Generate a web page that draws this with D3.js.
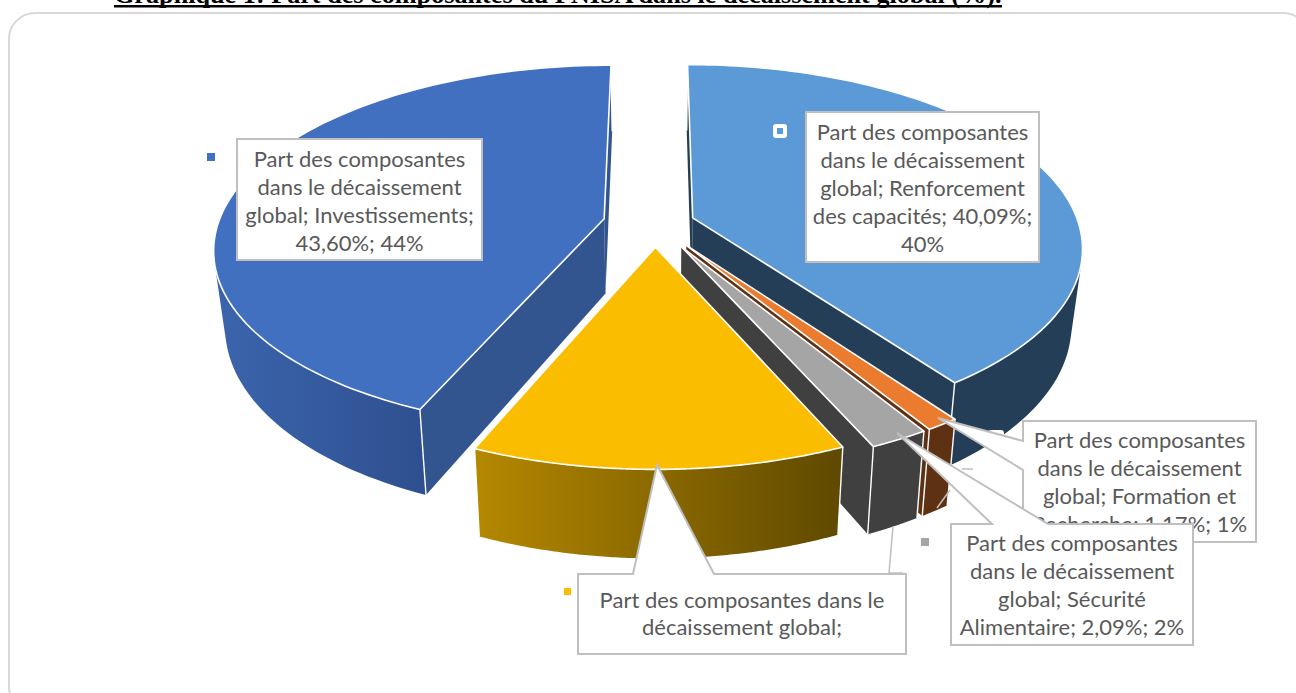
<!DOCTYPE html>
<html lang="fr"><head><meta charset="utf-8">
<style>html,body{margin:0;padding:0;background:#fff;overflow:hidden}svg{display:block}</style>
<script src="https://cdn.jsdelivr.net/npm/d3@7/dist/d3.min.js"></script>
</head><body><svg id="c" width="1296" height="693"></svg>
<script>
// ---- data ----
const categories = ["Renforcement des capacités","Formation et Recherche","Sécurité Alimentaire","Autres composantes","Investissements"];
const values = [40.09,1.17,2.09,13.05,43.60];
const topColors = ["#5b9ad6","#ea7b2f","#a5a5a5","#fbbd00","#4270c0"];
const wallColors = ["#233e56","#5f3113","#404040","#8a6900","#325590"];
const wallStart = ["#233e56","#5f3113","#404040","#b58800","#3b65ad"];
const wallEnd = ["#233e56","#5f3113","#404040","#5f4900","#2f5090"];
const explosions = [0.103,0.145,0.145,0.13,0.135];
const labelLines = [
  ["Part des composantes","dans le décaissement","global; Renforcement","des capacités; 40,09%;","40%"],
  ["Part des composantes","dans le décaissement","global; Formation et","Recherche; 1,17%; 1%"],
  ["Part des composantes","dans le décaissement","global; Sécurité","Alimentaire; 2,09%; 2%"],
  ["Part des composantes dans le","décaissement global;"],
  ["Part des composantes","dans le décaissement","global; Investissements;","43,60%; 44%"]
];
const titleText = "Graphique 1: Part des composantes du PNISA dans le décaissement global (%).";

// ---- layout ----
const vx=655,y0=223.5,a=386,b=179,k=0.157,depth=65,lift=10,shrink=0.974;
const svg=d3.select("#c");
const defs=svg.append("defs");

function project(X,Y,bottom){const s=1/(1-k*Y);
  return bottom?[vx+a*X*s*shrink,y0+lift+(b*Y+depth)*s]:[vx+a*X*s,y0+b*Y*s];}

const arcs=d3.pie().sort(null).startAngle(0).endAngle(2*Math.PI)(values);
const line=d3.line();

// frame
svg.append("rect").attr("x",9).attr("y",13).attr("width",1300).attr("height",700).attr("rx",26)
  .attr("fill","#fff").attr("stroke","#d9d9d9").attr("stroke-width",2);

// title
svg.append("text").attr("x",114).attr("y",3).attr("font-family","Liberation Serif")
  .attr("font-weight","700").attr("font-size",26.2).attr("fill","#000").text(titleText);
svg.append("rect").attr("x",114).attr("y",5).attr("width",888).attr("height",2.5).attr("fill","#000");

// pie slices
arcs.forEach((d,i)=>{
  const mid=(d.startAngle+d.endAngle)/2,e=explosions[i];
  const ex=e*Math.sin(mid),ey=-e*Math.cos(mid);
  const pt=(t,bottom)=>project(Math.sin(t)+ex,-Math.cos(t)+ey,bottom);
  const apex=bottom=>project(ex,ey,bottom);
  const ts=d3.range(0,121).map(j=>d.startAngle+(d.endAngle-d.startAngle)*j/120);
  const g=svg.append("g");
  const xs=ts.map(t=>pt(t,false)).filter(p=>p[1]>y0).map(p=>p[0]);
  const id="w"+i,gr=defs.append("linearGradient").attr("id",id).attr("gradientUnits","userSpaceOnUse")
    .attr("x1",d3.min(xs)).attr("x2",d3.max(xs)).attr("y1",0).attr("y2",0);
  gr.append("stop").attr("offset",0).attr("stop-color",wallStart[i]);
  gr.append("stop").attr("offset",1).attr("stop-color",wallEnd[i]);
  // outer wall: front-facing quads merged into one path, so the silhouettes are filled without seams
  const quad=(t1,t2)=>[pt(t1,false),pt(t2,false),pt(t2,true),pt(t1,true)];
  const frontSign=Math.sign(d3.polygonArea(quad(Math.PI-0.01,Math.PI+0.01)));
  const wall=d3.pairs(ts).map(([t1,t2])=>quad(t1,t2))
    .filter(q=>Math.sign(d3.polygonArea(q))===frontSign)
    .map(q=>line(q)+"Z").join("");
  g.append("path").attr("d",wall).attr("fill",`url(#${id})`);
  [d.startAngle,d.endAngle].forEach(t=>{
    if(i!==3) g.append("path").attr("d",line([apex(false),pt(t,false),pt(t,true),apex(true)])+"Z")
      .attr("fill",wallColors[i]);
    g.append("path").attr("d",line([pt(t,false),pt(t,true)])).attr("stroke","#fff").attr("stroke-width",1.4).attr("fill","none");
  });
  g.append("path").attr("d",line([apex(false),...ts.map(t=>pt(t,false))])+"Z")
    .attr("fill",topColors[i]).attr("stroke","#fff").attr("stroke-width",1.6).attr("stroke-linejoin","round");
});

// leader stubs
const stroke="#bfbfbf";
[[[893,526],[889,573],[903,573]],[[937,508],[950,490]],[[962,469],[973,469]]].forEach(p=>
  svg.append("path").attr("d",line(p)).attr("fill","none").attr("stroke",stroke).attr("stroke-width",1.5));

// legend keys
const keys=[{x:207,y:153,s:8,c:topColors[4]},{x:564,y:588,s:7,c:topColors[3]},{x:921,y:538,s:8,c:topColors[2]}];
keys.forEach(q=>svg.append("rect").attr("x",q.x).attr("y",q.y).attr("width",q.s).attr("height",q.s).attr("fill",q.c));
svg.append("rect").attr("x",775).attr("y",126).attr("width",10).attr("height",10).attr("rx",1).attr("fill",topColors[0]).attr("stroke","#fff").attr("stroke-width",4);
svg.append("rect").attr("x",988).attr("y",430).attr("width",16).attr("height",16).attr("rx",3).attr("fill","#fff");

// label callouts: box corners plus optional wedge
const boxes=[
 {i:0,x0:806,x1:1039,y0:112,y1:262,dy:1},
 {i:1,x0:1023,x1:1256,y0:421,y1:542,dy:1,wedge:[[1023,470],[938,418],[1023,441]]},
 {i:3,x0:578,x1:906,y0:574,y1:654,dy:0,wedgeTop:[[633,574],[657,465],[714,574]]},
 {i:2,x0:951,x1:1193,y0:524,y1:645,dy:1,wedgeTop:[[992,524],[897,433],[1048,524]]},
 {i:4,x0:237,x1:482,y0:139,y1:260,dy:1.5}
];
boxes.forEach(q=>{
  let pts;
  if(q.wedge) pts=[[q.x0,q.y0],[q.x1,q.y0],[q.x1,q.y1],[q.x0,q.y1],...q.wedge];
  else if(q.wedgeTop) pts=[[q.x0,q.y0],...q.wedgeTop,[q.x1,q.y0],[q.x1,q.y1],[q.x0,q.y1]];
  else pts=[[q.x0,q.y0],[q.x1,q.y0],[q.x1,q.y1],[q.x0,q.y1]];
  svg.append("path").attr("d",line(pts)+"Z").attr("fill","#fff").attr("stroke",stroke).attr("stroke-width",2);
  const n=labelLines[q.i].length,lh=q.i===3?27.5:28,cx=(q.x0+q.x1)/2,cy=(q.y0+q.y1)/2;
  labelLines[q.i].forEach((t,j)=>{
    svg.append("text").attr("x",cx).attr("y",cy+(j-(n-1)/2)*lh+7.5+q.dy).attr("text-anchor","middle")
      .attr("font-family","Lato").attr("font-size",22).attr("fill","#595959").text(t);
  });
});
</script></body></html>
